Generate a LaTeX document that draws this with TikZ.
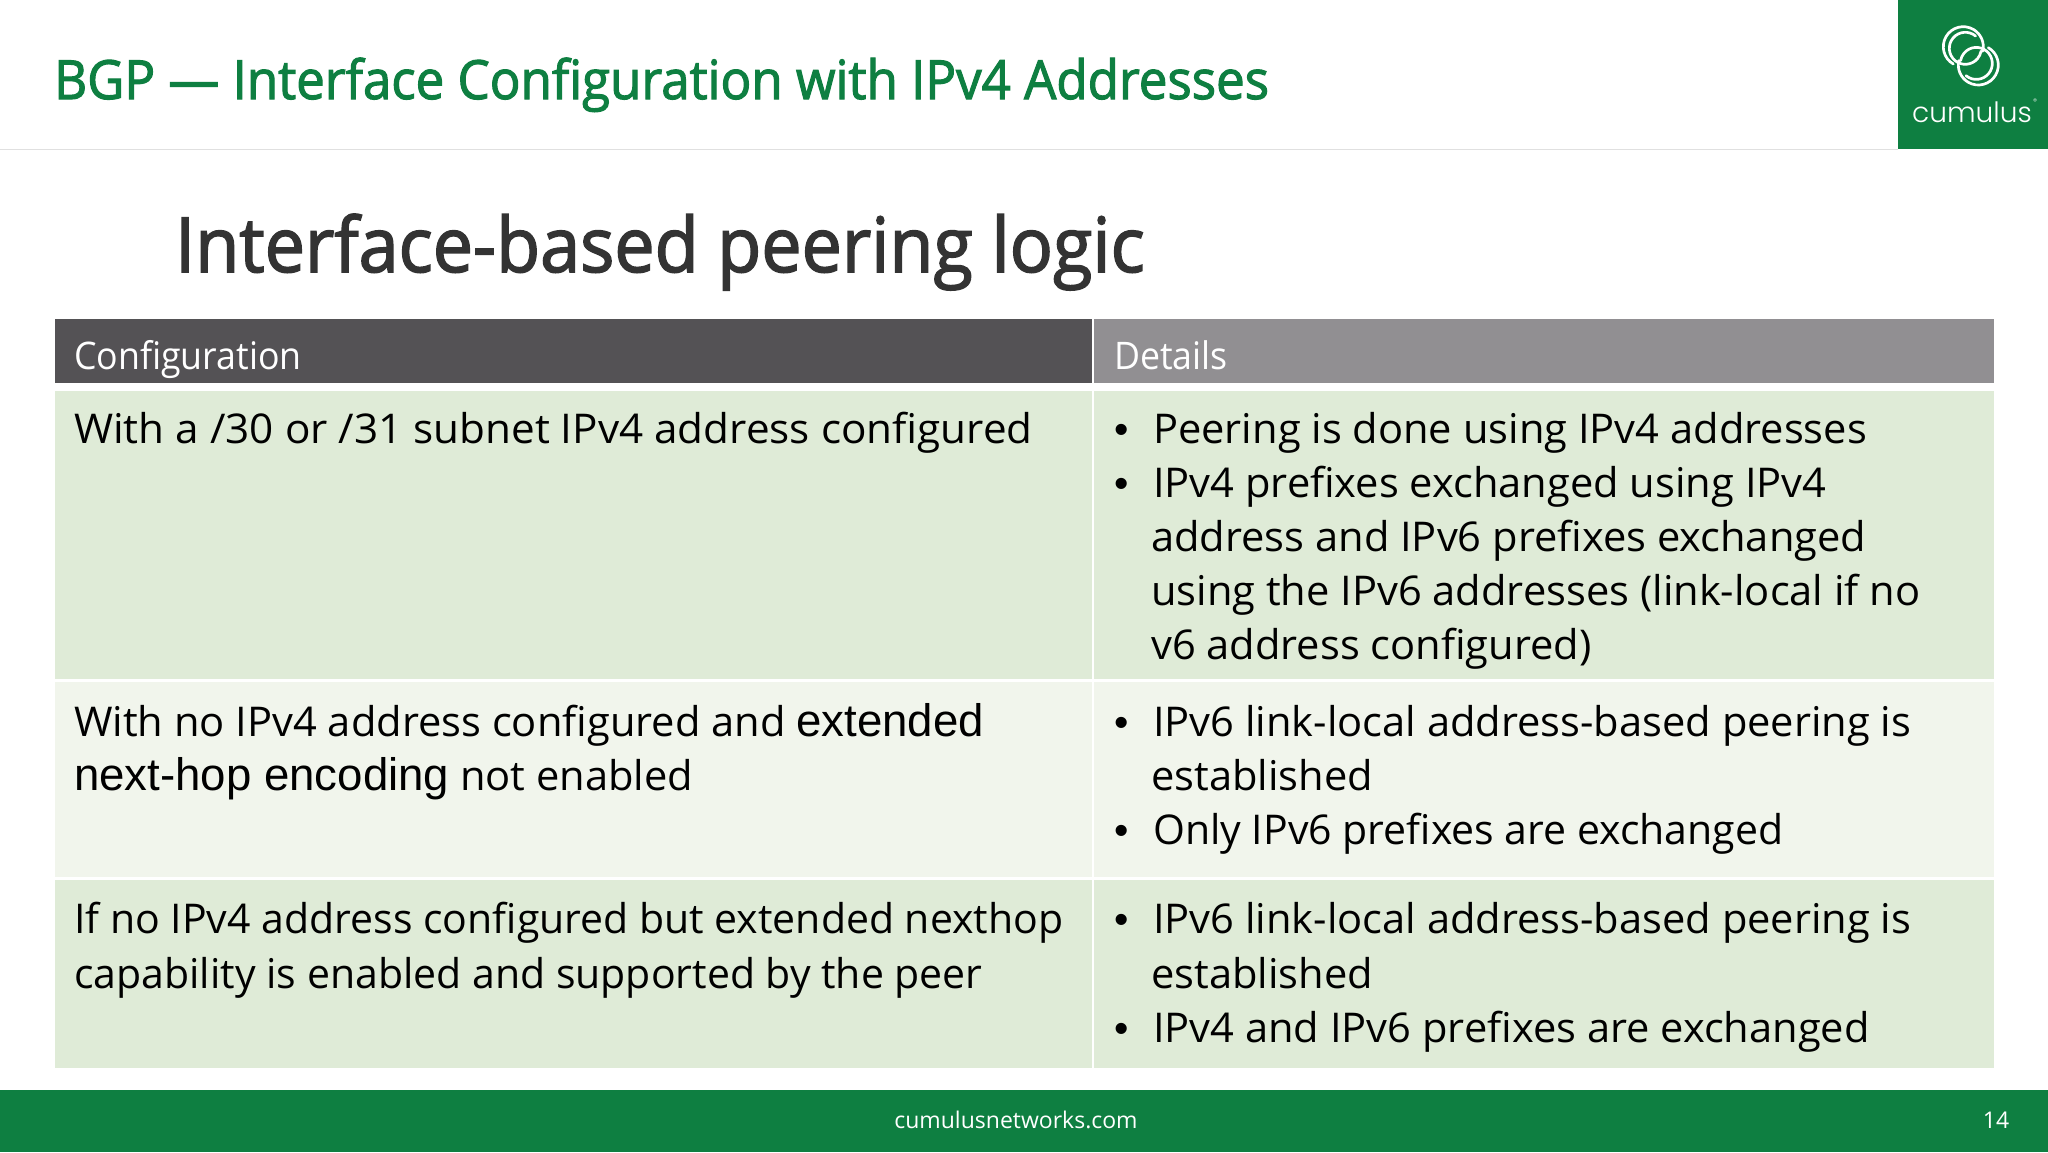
\documentclass[tikz,border=0pt]{standalone}
\usepackage{fontspec}
\setmainfont{Open Sans}
\newfontfamily\bodyfont[FakeStretch=1.015]{Open Sans}
\newfontfamily\bodynarrow[FakeStretch=1.0]{Open Sans}
\newfontfamily\bodywide[FakeStretch=1.03]{Open Sans}
\newfontfamily\headfont[FakeStretch=.94]{Open Sans}
\newfontfamily\titlefont[FakeStretch=.945,FakeBold=2]{Open Sans}
\newfontfamily\footfont{Open Sans}
\newfontfamily\arialfont{Liberation Sans}
\newfontfamily\logofont{Poppins Light}
\usepackage{xcolor}
\definecolor{cumulusgreen}{HTML}{0E7F41}
\definecolor{headdark}{HTML}{545255}
\definecolor{headgrey}{HTML}{918F92}
\definecolor{rowdark}{HTML}{DFEBD7}
\definecolor{rowlight}{HTML}{F1F5EC}
\tikzset{
  celltxt/.style={anchor=base west,inner sep=0pt,font=\bodyfont\fontsize{41}{48}\selectfont,text=black},
  cfgtxt/.style={celltxt,font=\bodynarrow\fontsize{41}{48}\selectfont},
  dottxt/.style={celltxt,font=\arialfont\fontsize{41}{48}\selectfont},
  headtxt/.style={anchor=base west,inner sep=0pt,font=\headfont\fontsize{38}{44}\selectfont,text=white},
  foottxt/.style={anchor=base,inner sep=0pt,font=\footfont\fontsize{23}{28}\selectfont,text=white},
  ringline/.style={draw=white,line width=2.7pt,line cap=round}
}
\newcommand{\arialbig}[1]{{\arialfont\fontsize{45.6}{48}\selectfont #1}}
\begin{document}
\begin{tikzpicture}[x=1pt,y=-1pt]
\useasboundingbox (0,0) rectangle (2048,1152);
\fill[white] (0,0) rectangle (2048,1152);
% top bar
\fill[black!12] (0,148.5) rectangle (1898,149.5);
\fill[cumulusgreen] (1898,0) rectangle (2048,149);
\node[anchor=base west,inner sep=0pt,text=cumulusgreen,font=\titlefont\fontsize{54}{60}\selectfont] (slidetitle) at (54,99) {BGP — Interface Configuration with IPv4 Addresses};
\node[anchor=base west,inner sep=0pt,text=black!80,font=\titlefont\fontsize{76}{80}\selectfont] (logictitle) at (175,272) {Interface-based peering logic};
% logo
\coordinate (ringup) at (1963.3,46.7);
\coordinate (ringlow) at (1978.3,65);
\coordinate (innerup) at (1965.3,48.3);
\coordinate (innerlow) at (1976.3,63.4);
\draw[ringline] (ringup) ++(120:20) arc[start angle=120,end angle=373,radius=20];
\draw[ringline] (innerup) ++(310:16) arc[start angle=310,end angle=10,radius=16];
\draw[ringline] (ringlow) ++(300:20) arc[start angle=300,end angle=553,radius=20];
\draw[ringline] (innerlow) ++(130:16) arc[start angle=130,end angle=-170,radius=16];
\node[anchor=base,inner sep=0pt,text=white,font=\logofont\fontsize{28}{34}\selectfont] (logotext) at (1972,122) {cumulus};
\node[anchor=base west,inner sep=0pt,text=white,font=\logofont\fontsize{8}{8}\selectfont] (logomark) at (2033,104) {®};
% table
\fill[headdark] (55,319) rectangle (1091.5,383);
\fill[headgrey] (1094,319) rectangle (1994,383);
\fill[rowdark] (55,391) rectangle (1091.5,679);
\fill[rowdark] (1094,391) rectangle (1994,679);
\fill[rowlight] (55,682) rectangle (1091.5,877);
\fill[rowlight] (1094,682) rectangle (1994,877);
\fill[rowdark] (55,880) rectangle (1091.5,1068);
\fill[rowdark] (1094,880) rectangle (1994,1068);
\node[headtxt] (headconfig) at (74,369) {Configuration};
\node[headtxt] (headdetails) at (1114,369) {Details};
\node[celltxt,font=\bodywide\fontsize{41}{48}\selectfont] (cfgone) at (74,443) {With a /30 or /31 subnet IPv4 address configured};
\node[celltxt] (cfgtwoa) at (74,736) {With no IPv4 address configured and \arialbig{extended}};
\node[celltxt] (cfgtwob) at (74,790) {\arialbig{next-hop encoding} not enabled};
\node[cfgtxt] (cfgthreea) at (74,933) {If no IPv4 address configured but extended nexthop};
\node[cfgtxt] (cfgthreeb) at (74,988) {capability is enabled and supported by the peer};
\node[dottxt] (dotonea) at (1114,443) {•};
\node[celltxt] (detonea) at (1153,443) {Peering is done using IPv4 addresses};
\node[dottxt] (dotoneb) at (1114,497) {•};
\node[celltxt] (detoneb) at (1153,497) {IPv4 prefixes exchanged using IPv4};
\node[celltxt] (detonec) at (1151,551) {address and IPv6 prefixes exchanged};
\node[celltxt] (detoned) at (1151,605) {using the IPv6 addresses (link-local if no};
\node[celltxt] (detonee) at (1151,659) {v6 address configured)};
\node[dottxt] (dottwoa) at (1114,736) {•};
\node[celltxt] (dettwoa) at (1153,736) {IPv6 link-local address-based peering is};
\node[celltxt] (dettwob) at (1151,790) {established};
\node[dottxt] (dottwob) at (1114,844) {•};
\node[cfgtxt] (dettwoc) at (1153,844) {Only IPv6 prefixes are exchanged};
\node[dottxt] (dotthreea) at (1114,933) {•};
\node[celltxt] (detthreea) at (1153,933) {IPv6 link-local address-based peering is};
\node[celltxt] (detthreeb) at (1151,988) {established};
\node[dottxt] (dotthreeb) at (1114,1042) {•};
\node[celltxt] (detthreec) at (1153,1042) {IPv4 and IPv6 prefixes are exchanged};
% footer
\fill[cumulusgreen] (0,1090) rectangle (2048,1152);
\node[foottxt] (footsite) at (1016,1128) {cumulusnetworks.com};
\node[foottxt] (footpage) at (1996,1128) {14};
\end{tikzpicture}
\end{document}
